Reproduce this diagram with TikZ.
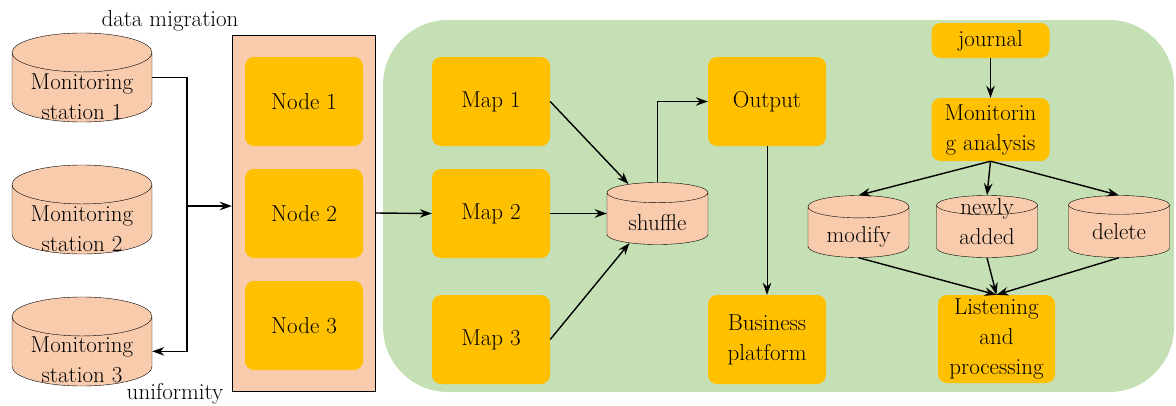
\documentclass[tikz,border=0pt]{standalone}
\usepackage{fontspec}
\usetikzlibrary{shapes.geometric,arrows.meta}
\definecolor{peach}{HTML}{F8CBAD}
\definecolor{amber}{HTML}{FFC000}
\definecolor{sage}{HTML}{C5E0B4}
% text inside a drum, moved down by #1 without changing the drum size
\newcommand{\drumtext}[2]{\raisebox{#1}[0pt][0pt]{\begin{tabular}[t]{@{}c@{}}#2\end{tabular}}}
\tikzstyle{block} = [rectangle, rounded corners=9pt, fill=amber, minimum width=118pt, minimum height=89pt, text centered, align=center, inner sep=1pt]
\tikzstyle{station} = [cylinder, shape border rotate=90, aspect=0.38, draw=black, fill=peach, minimum width=140pt, minimum height=89pt, inner sep=0pt, anchor=shape center]
\tikzstyle{store} = [cylinder, shape border rotate=90, aspect=0.35, draw=black, fill=peach, minimum width=101pt, minimum height=62pt, inner sep=0pt, anchor=shape center]
\tikzstyle{arrow} = [line width=1.4pt,->,>={Stealth[length=12pt,width=8.5pt]}]

\begin{document}
\begin{tikzpicture}[x=1pt,y=-1pt,node distance=112pt,font=\fontsize{23}{30}\selectfont]
\useasboundingbox (0,0) rectangle (1176,405);

% green area with the processing side
\fill[sage, rounded corners=65pt] (383,20) rectangle (1174,392);

% monitoring stations
\node (station1) [station] at (82,77.5) {\drumtext{-2pt}{Monitoring\\station 1}};
\node (station2) [station] at (82,209.5) {\drumtext{-2pt}{Monitoring\\station 2}};
\node (station3) [station] at (82,341.5) {\drumtext{-1pt}{Monitoring\\station 3}};
\node (migration) at (170,21) {data migration};
\node (uniform) at (175,394) {uniformity};

% cluster
\node (cluster) [rectangle, draw=black, fill=peach, minimum width=143pt, minimum height=356pt] at (303.5,213) {};
\node (node1) [block] at (304,101.5) {Node 1};
\node (node2) [block, below of=node1] {Node 2};
\node (node3) [block, below of=node2] {Node 3};

% map side
\node (map1) [block] at (491,101.5) {Map 1};
\node (map2) [block, below of=map1] {Map 2};
\node (map3) [block] at (491,339.5) {Map 3};
\node (shuffle) [store] at (657.5,213.5) {\drumtext{-12pt}{shuffle}};
\node (output) [block] at (767,101.5) {Output};
\node (business) [block] at (767,339.5) {Business\\platform};

% journal side
\node (journal) [block, minimum height=35pt] at (990.5,40.5) {journal};
\node (analysis) [block, minimum height=63pt] at (990.5,129.5) {Monitorin\\g analysis};
\node (modify) [store] at (858.5,226.5) {\drumtext{-10pt}{modify}};
\node (newly) [store] at (987,226.5) {\drumtext{17pt}{newly\\added}};
\node (delete) [store] at (1119,226.5) {\drumtext{-8pt}{delete}};
\node (listen) [block, minimum width=117pt, minimum height=88pt] at (996.5,339) {Listening\\and\\processing};

\coordinate (split) at (187,206);
\draw [arrow] (station1.shape center -| station1.east) -| (split) |- (station3.east);
\draw [arrow] (split) -- (split -| cluster.west);
\draw [arrow] (cluster.east) -- (map2.west);

\draw [arrow] (map1.east) -- (shuffle.130);
\draw [arrow] (map2.east) -- (map2.east -| shuffle.west);
\draw [arrow] (map3.east) -- (shuffle.221);
\draw [arrow] (shuffle.north) |- (output.west);
\draw [arrow, line width=0.8pt] (output.south) -- (business.north);

\draw [arrow] (journal.south) -- (analysis.north);
\draw [arrow] (analysis.south) -- (modify.north);
\draw [arrow] (analysis.south) -- (newly.north);
\draw [arrow] (analysis.south) -- (delete.north);
\draw [arrow] (modify.south) -- (listen.north);
\draw [arrow] (newly.south) -- (listen.north);
\draw [arrow] (delete.south) -- (listen.north);

\end{tikzpicture}
\end{document}
